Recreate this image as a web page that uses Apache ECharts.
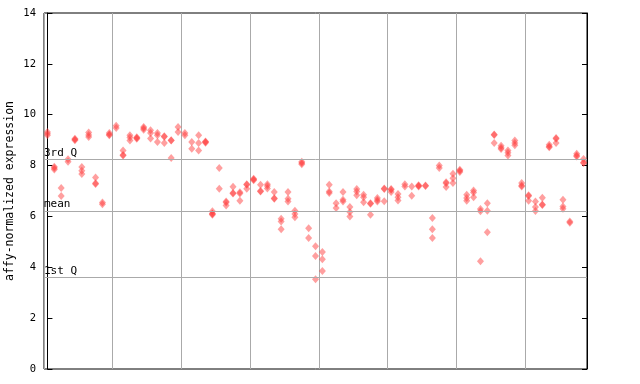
<!DOCTYPE html>
<html>
<head>
<meta charset="utf-8">
<script src="https://cdn.jsdelivr.net/npm/echarts@6/dist/echarts.min.js"></script>
<style>html,body{margin:0;padding:0;background:#fff}#c{width:640px;height:384px}</style>
</head>
<body>
<div id="c"></div>
<script>
// Expression values per sample position (k = 0..78), several replicates each
const sampleValues = [
  [9.32, 9.19, 9.25],
  [7.95, 7.85, 7.9],
  [7.12, 6.8],
  [8.25, 8.15],
  [9.05, 9.0, 9.03],
  [7.94, 7.8, 7.67],
  [9.3, 9.2, 9.12],
  [7.53, 7.3, 7.28],
  [6.55, 6.48],
  [9.28, 9.19, 9.22],
  [9.57, 9.48],
  [8.59, 8.4, 8.42],
  [9.19, 8.99, 9.1],
  [9.11, 9.08, 9.05],
  [9.52, 9.41, 9.47],
  [9.39, 9.28, 9.06],
  [9.28, 9.19, 8.93],
  [9.15, 8.89, 9.13],
  [8.99, 8.3, 9.0],
  [9.52, 9.32],
  [9.28, 9.19],
  [8.93, 8.66],
  [9.19, 8.89, 8.59],
  [8.93, 8.95, 8.9],
  [6.2, 6.12, 6.07, 6.1],
  [7.9, 7.09],
  [6.59, 6.43, 6.55],
  [7.17, 6.9, 6.92],
  [6.9, 6.62, 6.95],
  [7.27, 7.09, 7.25],
  [7.48, 7.42, 7.45],
  [7.25, 6.98, 7.0],
  [7.27, 7.1, 7.2],
  [6.96, 6.71, 6.7],
  [5.91, 5.8, 5.5],
  [6.96, 6.7, 6.59],
  [6.22, 6.1, 5.97],
  [8.1, 8.05, 8.15],
  [5.54, 5.15],
  [4.83, 4.44, 3.53],
  [4.6, 4.32, 3.85],
  [7.25, 6.98, 6.92],
  [6.52, 6.33],
  [6.96, 6.66, 6.59],
  [6.37, 6.17, 6.0],
  [7.08, 6.98, 6.83],
  [6.85, 6.75, 6.56],
  [6.52, 6.07, 6.5],
  [6.72, 6.59, 6.65],
  [7.1, 6.6, 7.08],
  [7.08, 6.96, 7.05],
  [6.88, 6.75, 6.63],
  [7.27, 7.18],
  [7.18, 6.81],
  [7.21, 7.18, 7.23],
  [7.22, 7.2],
  [5.94, 5.5, 5.15],
  [8.0, 7.9],
  [7.34, 7.16, 7.3],
  [7.68, 7.5, 7.31],
  [7.84, 7.75, 7.8],
  [6.85, 6.72, 6.62],
  [7.02, 6.94, 6.75],
  [6.29, 6.2, 4.24],
  [6.52, 6.22, 5.38],
  [9.22, 8.89, 9.2],
  [8.78, 8.65, 8.7],
  [8.59, 8.5, 8.4],
  [8.99, 8.89, 8.8],
  [7.31, 7.18, 7.22],
  [6.83, 6.62, 6.8],
  [6.59, 6.37, 6.21],
  [6.73, 6.47, 6.45],
  [8.82, 8.72, 8.75],
  [9.08, 8.89, 9.05],
  [6.66, 6.39, 6.3],
  [5.8, 5.75],
  [8.46, 8.36, 8.4],
  [8.26, 8.1, 8.12]
];
const refValues = [8.23, 6.21, 3.61];
const refLabels = ['3rd Q', 'mean', '1st Q'];
const yTicks = [0, 2, 4, 6, 8, 10, 12, 14];
const yName = 'affy-normalized expression';

const points = [];
sampleValues.forEach((vals, k) => vals.forEach(v => points.push([k, v])));

const font = 'DejaVu Sans Mono';
const chart = echarts.init(document.getElementById('c'), null, {renderer: 'canvas'});
chart.setOption({
  animation: false,
  backgroundColor: '#fff',
  grid: {left: 44, right: 53, top: 13, bottom: 15, containLabel: false, outerBoundsMode: 'none',
         show: true, borderColor: '#000', borderWidth: 1, backgroundColor: 'transparent'},
  xAxis: {
    type: 'value', min: -0.5, max: 78.5, interval: 10,
    axisLine: {show: false}, axisTick: {show: false}, axisLabel: {show: false},
    splitLine: {show: true, lineStyle: {color: '#aaaaaa', width: 1}}
  },
  yAxis: [{
    type: 'value', min: yTicks[0], max: yTicks[yTicks.length - 1], interval: 2,
    name: yName, nameLocation: 'middle', nameGap: 28, nameMoveOverlap: false,
    nameTextStyle: {fontFamily: font, fontSize: 11.5, color: '#000'},
    axisLine: {show: true, lineStyle: {color: '#000'}},
    axisTick: {show: true, inside: true, length: 5, lineStyle: {color: '#000'}},
    axisLabel: {fontFamily: font, fontSize: 10.5, color: '#000', margin: 8},
    splitLine: {show: false}
  }, {
    type: 'value', min: yTicks[0], max: yTicks[yTicks.length - 1], interval: 2, position: 'right',
    axisLine: {show: true, lineStyle: {color: '#000'}},
    axisTick: {show: true, inside: true, length: 5, lineStyle: {color: '#000'}},
    axisLabel: {show: false}, splitLine: {show: false}
  }],
  series: [{
    type: 'scatter',
    data: points,
    symbol: 'diamond',
    symbolSize: [7, 8],
    itemStyle: {color: 'rgba(255,60,60,0.62)'},
    markLine: {
      silent: true, symbol: 'none', animation: false,
      lineStyle: {color: '#aaaaaa', width: 1, type: 'solid'},
      label: {
        show: true, position: 'insideStartTop', distance: [0, 1],
        fontFamily: font, fontSize: 11, color: '#000',
        formatter: p => p.name
      },
      data: refValues.map((v, i) => ({yAxis: v, name: refLabels[i]}))
    },
    z: 3
  }]
});
</script>
</body>
</html>
